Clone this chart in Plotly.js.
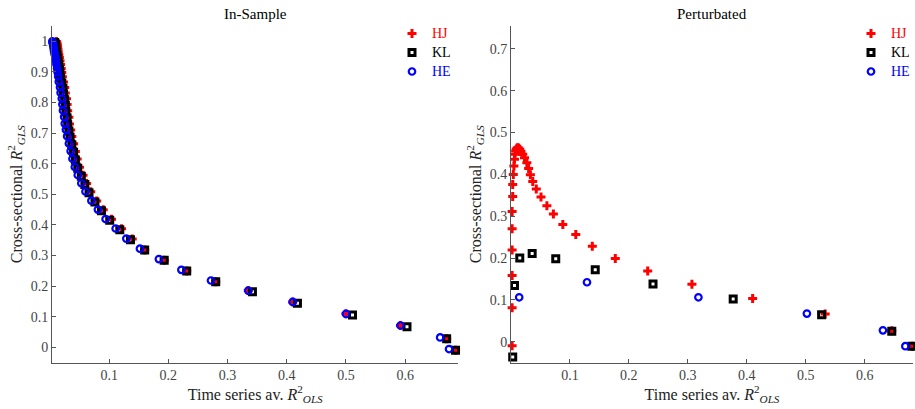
<!DOCTYPE html>
<html>
<head>
<meta charset="utf-8">
<script src="https://cdn.plot.ly/plotly-3.0.1.min.js"></script>
<style>html,body{margin:0;padding:0;background:#fff;}#chart{width:915px;height:409px;}</style>
</head>
<body>
<div id="chart"></div>
<script>
// ---------- In-Sample panel ----------
const hjLeftX = [0.011,0.0115,0.012,0.0125,0.013,0.0135,0.014,0.015,0.016,0.017,0.018,0.019,0.020,0.021,0.023,0.025,0.026,0.028,0.029,0.030,0.032,0.033,0.035,0.037,0.040,0.043,0.046,0.050,0.056,0.062,0.069,0.079,0.090,0.104,0.121,0.139,0.160,0.193,0.231,0.280,0.335,0.410,0.500,0.592,0.670,0.685];
const hjLeftY = [0.999,0.996,0.992,0.987,0.981,0.974,0.966,0.957,0.947,0.936,0.924,0.911,0.898,0.884,0.867,0.849,0.831,0.812,0.793,0.773,0.752,0.730,0.710,0.689,0.665,0.640,0.615,0.588,0.562,0.535,0.508,0.478,0.449,0.418,0.387,0.354,0.318,0.284,0.249,0.214,0.185,0.148,0.109,0.071,0.028,-0.010];
const klLeftX = [0.008,0.0085,0.009,0.0095,0.010,0.0105,0.011,0.012,0.013,0.014,0.015,0.016,0.017,0.018,0.020,0.022,0.023,0.025,0.026,0.027,0.029,0.030,0.032,0.034,0.037,0.040,0.043,0.047,0.053,0.059,0.066,0.076,0.087,0.101,0.118,0.136,0.160,0.193,0.231,0.280,0.342,0.418,0.511,0.603,0.670,0.685];
const klLeftY = [0.996,0.993,0.989,0.984,0.978,0.971,0.963,0.954,0.944,0.933,0.921,0.908,0.895,0.881,0.864,0.846,0.828,0.809,0.790,0.770,0.749,0.727,0.707,0.686,0.662,0.637,0.612,0.585,0.559,0.532,0.505,0.475,0.446,0.415,0.384,0.351,0.318,0.284,0.249,0.214,0.181,0.144,0.105,0.067,0.028,-0.010];
const heLeftX = [0.004,0.0045,0.005,0.0055,0.006,0.0065,0.007,0.008,0.009,0.010,0.011,0.012,0.013,0.014,0.015,0.017,0.018,0.020,0.021,0.022,0.024,0.025,0.027,0.029,0.032,0.035,0.038,0.042,0.047,0.053,0.060,0.070,0.081,0.094,0.111,0.129,0.152,0.184,0.222,0.272,0.335,0.410,0.500,0.592,0.659,0.674];
const heLeftY = [1.000,0.997,0.993,0.988,0.982,0.975,0.967,0.958,0.948,0.937,0.925,0.912,0.899,0.885,0.868,0.850,0.832,0.813,0.794,0.774,0.753,0.731,0.711,0.690,0.666,0.641,0.616,0.589,0.563,0.536,0.509,0.479,0.450,0.419,0.388,0.355,0.322,0.288,0.253,0.218,0.185,0.148,0.109,0.071,0.032,-0.006];

// ---------- Perturbated panel ----------
const hjRightX = [0.002,0.002,0.002,0.002,0.002,0.002,0.003,0.003,0.004,0.005,0.006,0.007,0.008,0.009,0.011,0.013,0.015,0.017,0.020,0.023,0.027,0.030,0.033,0.037,0.043,0.051,0.061,0.072,0.088,0.110,0.138,0.177,0.232,0.307,0.410,0.533,0.646,0.681];
const hjRightY = [-0.010,0.081,0.158,0.219,0.270,0.311,0.347,0.376,0.400,0.420,0.436,0.448,0.456,0.461,0.464,0.463,0.460,0.455,0.448,0.440,0.428,0.414,0.399,0.383,0.365,0.346,0.325,0.305,0.280,0.256,0.228,0.199,0.169,0.137,0.103,0.066,0.026,-0.011];
const klRightX = [0.003,0.006,0.015,0.036,0.076,0.143,0.241,0.377,0.527,0.646,0.680];
const klRightY = [-0.037,0.134,0.200,0.211,0.198,0.172,0.138,0.102,0.064,0.025,-0.011];
const heRightX = [0.014,0.129,0.318,0.502,0.631,0.669];
const heRightY = [0.106,0.142,0.106,0.067,0.027,-0.011];

// ---------- ticks & labels ----------
const xTickVals = [0.1,0.2,0.3,0.4,0.5,0.6];
const xTickText = ['0.1','0.2','0.3','0.4','0.5','0.6'];
const yLeftTickVals = [0,0.1,0.2,0.3,0.4,0.5,0.6,0.7,0.8,0.9,1];
const yLeftTickText = ['0','0.1','0.2','0.3','0.4','0.5','0.6','0.7','0.8','0.9','1'];
const yRightTickVals = [0,0.1,0.2,0.3,0.4,0.5,0.6,0.7];
const yRightTickText = ['0','0.1','0.2','0.3','0.4','0.5','0.6','0.7'];
const seriesNames = ['HJ','KL','HE'];
const panelTitles = ['In-Sample','Perturbated'];

const FONT = 'Liberation Serif, Times New Roman, serif';
const RED = '#ff0000', BLACK = '#000000', BLUE = '#0000ff';

function mk(x, y, idx, xa, ya, leg, show) {
  const colors = [RED, BLACK, BLUE];
  const c = colors[idx];
  let marker;
  if (idx === 0) marker = {symbol: 'cross', size: 7.5, color: c, line: {width: 0}};
  else if (idx === 1) marker = {symbol: 'square-open', size: 6, color: c, line: {width: 3, color: c}};
  else marker = {symbol: 'circle-open', size: 6.5, color: c, line: {width: 2.2, color: c}};
  return {
    type: 'scatter', mode: 'markers', x: x, y: y, xaxis: xa, yaxis: ya,
    name: '<span style="color:' + c + ';font-size:14px">' + seriesNames[idx] + '</span>',
    legend: leg, showlegend: show, marker: marker, cliponaxis: false, hoverinfo: 'x+y'
  };
}

const data = [
  mk(hjLeftX, hjLeftY, 0, 'x', 'y', 'legend', true),
  mk(klLeftX, klLeftY, 1, 'x', 'y', 'legend', true),
  mk(heLeftX, heLeftY, 2, 'x', 'y', 'legend', true),
  mk(hjRightX, hjRightY, 0, 'x2', 'y2', 'legend2', true),
  mk(klRightX, klRightY, 1, 'x2', 'y2', 'legend2', true),
  mk(heRightX, heRightY, 2, 'x2', 'y2', 'legend2', true)
];

const W = 915, H = 409;
const axColor = '#555555';
function xax(dom, rng, anchor) {
  return {
    domain: dom, range: rng, anchor: anchor, showgrid: false, zeroline: false,
    showline: true, linecolor: axColor, linewidth: 1, mirror: false,
    ticks: 'inside', ticklen: 4, tickcolor: axColor, tickwidth: 1,
    tickmode: 'array', tickvals: xTickVals, ticktext: xTickText,
    tickfont: {family: FONT, size: 14, color: '#444444'},
    title: {text: 'Time series av. <i>R</i><sup>2</sup><sub><i>OLS</i></sub>', font: {family: FONT, size: 16, color: '#222222'}, standoff: 4}
  };
}
function yax(dom, rng, anchor, tv, tt) {
  return {
    domain: dom, range: rng, anchor: anchor, showgrid: false, zeroline: false,
    showline: true, linecolor: axColor, linewidth: 1,
    ticks: 'inside', ticklen: 4, tickcolor: axColor, tickwidth: 1,
    tickmode: 'array', tickvals: tv, ticktext: tt,
    tickfont: {family: FONT, size: 14, color: '#444444'},
    title: {text: 'Cross-sectional <i>R</i><sup>2</sup><sub><i>GLS</i></sub>', font: {family: FONT, size: 16, color: '#222222'}, standoff: 4}
  };
}
const yDom = [(H - 362.5) / H, (H - 26) / H];
const layout = {
  width: W, height: H,
  margin: {l: 0, r: 0, t: 0, b: 0},
  paper_bgcolor: '#ffffff', plot_bgcolor: '#ffffff',
  font: {family: FONT, color: '#222222'},
  xaxis: xax([52 / W, 459 / W], [0.0034, 0.69], 'y'),
  yaxis: yax(yDom, [-0.05, 1.05], 'x', yLeftTickVals, yLeftTickText),
  xaxis2: xax([511.5 / W, 914 / W], [0, 0.682], 'y2'),
  yaxis2: yax(yDom, [-0.05, 0.755], 'x2', yRightTickVals, yRightTickText),
  legend: {x: 392 / W, xanchor: 'left', y: (H - 19) / H, yanchor: 'top', bgcolor: 'rgba(0,0,0,0)', borderwidth: 0,
           font: {family: FONT, size: 12}, itemwidth: 30, tracegroupgap: 0},
  legend2: {x: 852 / W, xanchor: 'left', y: (H - 19) / H, yanchor: 'top', bgcolor: 'rgba(0,0,0,0)', borderwidth: 0,
           font: {family: FONT, size: 12}, itemwidth: 30, tracegroupgap: 0},
  annotations: [
    {text: panelTitles[0], xref: 'paper', yref: 'paper', x: 255.5 / W, y: (H - 14) / H, xanchor: 'center', yanchor: 'middle', showarrow: false, font: {family: FONT, size: 15, color: '#000000'}},
    {text: panelTitles[1], xref: 'paper', yref: 'paper', x: 713 / W, y: (H - 14) / H, xanchor: 'center', yanchor: 'middle', showarrow: false, font: {family: FONT, size: 15, color: '#000000'}}
  ]
};
Plotly.newPlot('chart', data, layout, {displayModeBar: false, staticPlot: true});
</script>
</body>
</html>
